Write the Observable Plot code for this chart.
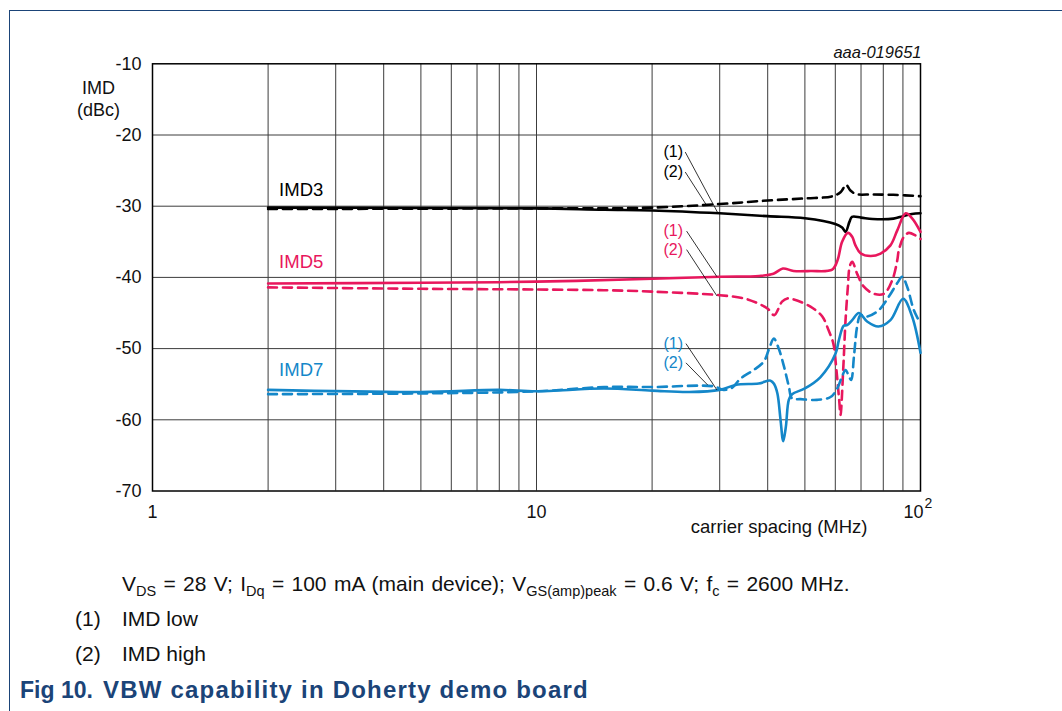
<!DOCTYPE html>
<html>
<head>
<meta charset="utf-8">
<script src="https://cdn.jsdelivr.net/npm/d3@7"></script>
<script src="https://cdn.jsdelivr.net/npm/@observablehq/plot@0.6"></script>
<style>
  html, body { margin: 0; padding: 0; background: #fff; }
  #wrap { position: relative; width: 1062px; height: 711px; overflow: hidden; font-family: "Liberation Sans", Arial, sans-serif; color: #111; }
  #borderTop { position: absolute; left: 9px; top: 9.5px; width: 1053px; height: 0; border-top: 1.5px solid #1b4478; }
  #borderLeft { position: absolute; left: 9px; top: 9.5px; width: 0; height: 702px; border-left: 1.5px solid #1b4478; }
  #chart { position: absolute; left: 0; top: 0; }
  .cap { position: absolute; font-size: 21px; white-space: nowrap; line-height: 22px; }
  .cap sub { font-size: 14.5px; vertical-align: -5px; line-height: 0; }
  .fig { position: absolute; font-size: 24px; font-weight: bold; color: #1b4478; white-space: nowrap; line-height: 26px; }
</style>
</head>
<body>
<div id="wrap">
  <div id="chart"></div>
  <div id="borderTop"></div>
  <div id="borderLeft"></div>
  <div class="cap" style="left:122px; top:573px; word-spacing:1.5px;">V<sub>DS</sub> = 28 V; I<sub>Dq</sub> = 100 mA (main device); V<sub>GS(amp)peak</sub> = 0.6 V; f<sub>c</sub> = 2600 MHz.</div>
  <div class="cap" style="left:75px; top:608px;">(1)</div>
  <div class="cap" style="left:122px; top:608px;">IMD low</div>
  <div class="cap" style="left:75px; top:643px;">(2)</div>
  <div class="cap" style="left:122px; top:643px;">IMD high</div>
  <div class="fig" style="left:20px; top:677px; font-size:23px;">Fig 10.</div>
  <div class="fig" style="left:103px; top:677px; letter-spacing:1.2px;">VBW capability in Doherty demo board</div>
</div>
<script>
// ---- data (carrier spacing in MHz, IMD in dBc) ----
const imd3LowF  = [2, 5, 10, 15, 20, 30, 40, 50, 60, 62.5, 63.8, 65.3, 66.3, 70, 75, 85, 90, 95, 100];
const imd3LowV  = [-30.2, -30.25, -30.3, -30.5, -30.6, -31.0, -31.4, -31.7, -32.5, -33.0, -33.6, -32.2, -31.5, -31.6, -31.8, -31.75, -31.4, -31.1, -31.0];
const imd3HighF = [2, 5, 10, 15, 20, 30, 40, 50, 59, 62, 64, 65.7, 68, 75, 85, 100];
const imd3HighV = [-30.4, -30.35, -30.3, -30.3, -30.2, -29.7, -29.2, -28.9, -28.6, -28.0, -27.0, -27.8, -28.3, -28.35, -28.4, -28.6];

const imd5LowF  = [2, 5, 10, 20, 30, 38, 41.4, 43.8, 46.7, 51.7, 58.9, 60.8, 62.5, 64.7, 66.4, 67.7, 69.8, 74.1, 78.7, 83.5, 87, 91.5, 95.1, 100];
const imd5LowV  = [-40.85, -40.75, -40.6, -40.2, -39.9, -39.8, -39.5, -38.75, -39.1, -39.1, -38.9, -37.6, -35.0, -33.75, -34.3, -35.5, -36.6, -37.0, -36.65, -35.5, -33.4, -31.0, -31.7, -33.6];
const imd5HighF = [2, 5, 10, 15, 20, 30, 35, 37.9, 40, 41.6, 43.6, 45, 46.8, 51.7, 55.5, 57.6, 59.3, 60.4, 61.4, 61.9, 62.9, 63.8, 64.7, 65.4, 66.4, 68.4, 71.2, 75.6, 80.3, 84.4, 87, 87.8, 90.5, 93.2, 97, 100];
const imd5HighV = [-41.4, -41.6, -41.7, -41.8, -42.0, -42.5, -43.0, -43.7, -44.4, -45.3, -43.4, -42.96, -43.1, -44.1, -45.5, -47.4, -49.3, -53.0, -57.2, -59.3, -53.0, -46.0, -41.3, -38.5, -37.8, -39.5, -41.3, -42.3, -42.3, -40.4, -37.6, -36.2, -34.3, -33.75, -34.1, -34.6];

const imd7LowF  = [2, 5, 8, 10, 15, 20, 25, 30, 33, 37.9, 40.7, 41.6, 42.4, 43.2, 43.9, 44.6, 45.4, 46.3, 50, 54.9, 60.1, 61.3, 63.1, 64.4, 66.4, 69.1, 72.6, 77.7, 83.5, 90.1, 95.1, 100];
const imd7LowV  = [-55.8, -56.1, -55.8, -56.0, -55.6, -55.9, -56.1, -55.8, -55.1, -54.9, -54.5, -55.0, -56.3, -60.0, -63.0, -61.0, -57.2, -56.4, -55.6, -54.0, -50.7, -48.8, -46.8, -46.7, -46.0, -45.0, -46.2, -46.9, -46.0, -43.0, -45.5, -50.6];
const imd7HighF = [2, 5, 10, 15, 20, 28.9, 30.7, 32.3, 34.0, 36.8, 39.1, 40.3, 41.5, 42.8, 44.1, 45.4, 46.3, 48.7, 53.8, 58.3, 60.7, 62.5, 63.8, 65.1, 66.0, 67.1, 68.4, 69.8, 72.6, 77.9, 82.7, 87.0, 89.6, 92.3, 96.1, 100];
const imd7HighV = [-56.4, -56.3, -56.0, -55.4, -55.4, -55.3, -55.8, -55.5, -54.2, -53.0, -51.8, -50.1, -48.6, -50.1, -52.5, -55.3, -57.0, -57.1, -57.2, -56.8, -55.6, -53.9, -53.0, -53.9, -54.4, -51.1, -46.9, -45.3, -45.5, -44.6, -42.7, -40.8, -39.9, -41.3, -44.6, -46.5];

const seriesNames  = ["IMD3", "IMD5", "IMD7"];
const seriesColors = ["#000000", "#e8175d", "#1487c9"];
const seriesLabelY = [-27.8, -37.8, -53.0];

const yTicks = [-10, -20, -30, -40, -50, -60, -70];
const gridY = [-20, -30, -40, -50, -60];
const gridX = [2, 3, 4, 5, 6, 7, 8, 9, 10, 20, 30, 40, 50, 60, 70, 80, 90];
const xTickLabels = [{x: 1, t: "1"}, {x: 10, t: "10"}];

// annotation markers (1)/(2) per series: text position and leader line ends
const annTextF = 22.7;
const annY1 = [-22.4, -33.5, -49.3];
const annY2 = [-25.2, -36.1, -52.0];
const leadStartF = [24.4, 24.6, 24.5];
const lead1End = [[29.7, -31.0], [29.5, -39.9], [29.5, -55.8]];
const lead2End = [[27.6, -29.7], [29.5, -42.6], [27.9, -55.1]];

// ---- build tables ----
const pts = (F, V) => F.map((f, i) => ({f, v: V[i]}));
const curves = [
  {d: pts(imd3LowF, imd3LowV), c: 0, dash: null},
  {d: pts(imd3HighF, imd3HighV), c: 0, dash: "9,6"},
  {d: pts(imd5LowF, imd5LowV), c: 1, dash: null},
  {d: pts(imd5HighF, imd5HighV), c: 1, dash: "9,6"},
  {d: pts(imd7LowF, imd7LowV), c: 2, dash: null},
  {d: pts(imd7HighF, imd7HighV), c: 2, dash: "9,6"}
];
const annTexts = [];
const leaders = [];
seriesNames.forEach((s, i) => {
  annTexts.push({f: annTextF, v: annY1[i], t: "(1)", c: seriesColors[i]});
  annTexts.push({f: annTextF, v: annY2[i], t: "(2)", c: seriesColors[i]});
  leaders.push({x1: leadStartF[i], y1: annY1[i], x2: lead1End[i][0], y2: lead1End[i][1]});
  leaders.push({x1: leadStartF[i], y1: annY2[i], x2: lead2End[i][0], y2: lead2End[i][1]});
});

const font = "Liberation Sans, Arial, sans-serif";
const marks = [
  Plot.ruleX(gridX, {y1: -70, y2: -10, stroke: "#3c3c3c", strokeWidth: 1}),
  Plot.ruleY(gridY, {x1: 1, x2: 100, stroke: "#3c3c3c", strokeWidth: 1}),
  Plot.frame({stroke: "#000", strokeWidth: 1.5}),
  ...curves.map(cv => Plot.line(cv.d, {x: "f", y: "v", stroke: seriesColors[cv.c], strokeWidth: 2.6,
      strokeDasharray: cv.dash ?? undefined, curve: "catmull-rom"})),
  Plot.link(leaders, {x1: "x1", y1: "y1", x2: "x2", y2: "y2", stroke: "#000", strokeWidth: 0.8}),
  Plot.text(annTexts, {x: "f", y: "v", text: "t", fill: d => d.c, fontSize: 16, textAnchor: "middle"}),
  Plot.text(seriesNames, {x: 2, y: (d, i) => seriesLabelY[i], text: d => d, fill: (d, i) => seriesColors[i], dx: 11, textAnchor: "start", fontSize: 18.5}),
  Plot.text(yTicks, {x: 1, y: d => d, text: d => String(d), textAnchor: "end", dx: -11, fontSize: 18}),
  Plot.text(xTickLabels, {x: "x", y: -70, text: "t", dy: 21, fontSize: 18, textAnchor: "middle"}),
  Plot.text(["10"], {x: 100, y: -70, text: d => d, dy: 21, dx: 3, textAnchor: "end", fontSize: 18}),
  Plot.text(["2"], {x: 100, y: -70, text: d => d, dy: 13, dx: 4, textAnchor: "start", fontSize: 14}),
  Plot.text(["carrier spacing (MHz)"], {x: 100, y: -70, text: d => d, dy: 36, dx: -53, textAnchor: "end", fontSize: 18.5}),
  Plot.text(["IMD"], {x: 1, y: -13.37, text: d => d, dx: -54, fontSize: 18, textAnchor: "middle"}),
  Plot.text(["(dBc)"], {x: 1, y: -16.55, text: d => d, dx: -54, fontSize: 18, textAnchor: "middle"}),
  Plot.text(["aaa-019651"], {x: 100, y: -10, text: d => d, dy: -11, dx: 1, textAnchor: "end", fontSize: 16.5, fontStyle: "italic"})
];

const chart = Plot.plot({
  width: 1062,
  height: 545,
  marginLeft: 152,
  marginRight: 142,
  marginTop: 63.3,
  marginBottom: 54.5,
  style: {fontFamily: font, background: "transparent", color: "#111"},
  x: {type: "log", domain: [1, 100], axis: null},
  y: {domain: [-70, -10], axis: null},
  marks
});
document.getElementById("chart").appendChild(chart);
</script>
</body>
</html>
